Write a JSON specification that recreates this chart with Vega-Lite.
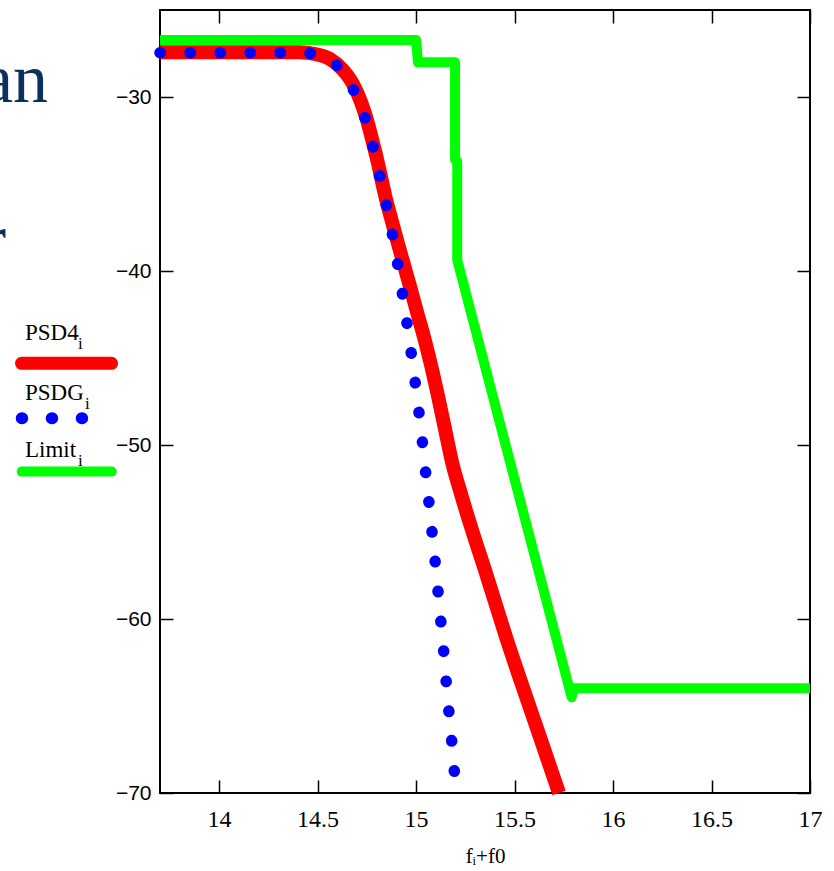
{
  "$schema": "https://vega.github.io/schema/vega-lite/v6.json",
  "width": 650,
  "height": 783,
  "autosize": {"type": "none"},
  "padding": {"left": 160, "top": 10, "right": 24, "bottom": 78},
  "background": "white",
  "config": {
    "view": {"stroke": "#000", "strokeWidth": 2},
    "axis": {"grid": false, "domain": false, "tickColor": "#000", "tickWidth": 1.5, "tickSize": -13, "labelColor": "#000", "labelFlush": false}
  },
  "datasets": {
    "psd4": [
      {"i": 0, "f": 13.7, "v": -27.43}, {"i": 1, "f": 14.4108, "v": -27.431}, {"i": 2, "f": 14.4869, "v": -27.529},
      {"i": 3, "f": 14.5631, "v": -27.816}, {"i": 4, "f": 14.6291, "v": -28.448}, {"i": 5, "f": 14.6799, "v": -29.253},
      {"i": 6, "f": 14.7205, "v": -30.287}, {"i": 7, "f": 14.7509, "v": -31.322}, {"i": 8, "f": 14.7763, "v": -32.414},
      {"i": 9, "f": 14.8017, "v": -33.563}, {"i": 10, "f": 14.822, "v": -34.598}, {"i": 11, "f": 14.8423, "v": -35.632},
      {"i": 12, "f": 14.8728, "v": -36.954}, {"i": 13, "f": 14.9032, "v": -38.218}, {"i": 14, "f": 14.9388, "v": -39.655},
      {"i": 15, "f": 14.9743, "v": -41.092}, {"i": 16, "f": 15.0048, "v": -42.356}, {"i": 17, "f": 15.0403, "v": -43.793},
      {"i": 18, "f": 15.0759, "v": -45.402}, {"i": 19, "f": 15.1114, "v": -47.184}, {"i": 20, "f": 15.1469, "v": -49.08},
      {"i": 21, "f": 15.1825, "v": -50.977}, {"i": 22, "f": 15.2282, "v": -52.816}, {"i": 23, "f": 15.284, "v": -54.885},
      {"i": 24, "f": 15.3449, "v": -57.011}, {"i": 25, "f": 15.4008, "v": -59.023}, {"i": 26, "f": 15.4566, "v": -61.034},
      {"i": 27, "f": 15.5175, "v": -63.103}, {"i": 28, "f": 15.5784, "v": -65.115}, {"i": 29, "f": 15.6394, "v": -67.126},
      {"i": 30, "f": 15.7257, "v": -70.0}
    ],
    "psdg": [
      {"i": 0, "f": 13.7, "v": -27.46}, {"i": 1, "f": 14.411, "v": -27.46}, {"i": 2, "f": 14.487, "v": -27.53},
      {"i": 3, "f": 14.563, "v": -27.82}, {"i": 4, "f": 14.633, "v": -28.7}, {"i": 5, "f": 14.715, "v": -30.4},
      {"i": 6, "f": 14.766, "v": -32.14}, {"i": 7, "f": 14.801, "v": -33.86}, {"i": 8, "f": 14.836, "v": -35.59},
      {"i": 9, "f": 14.869, "v": -37.26}, {"i": 10, "f": 14.898, "v": -39.02}, {"i": 11, "f": 14.923, "v": -40.76},
      {"i": 12, "f": 14.947, "v": -42.47}, {"i": 13, "f": 14.969, "v": -44.2}, {"i": 14, "f": 14.99, "v": -45.92},
      {"i": 15, "f": 15.01, "v": -47.7}, {"i": 16, "f": 15.028, "v": -49.39}, {"i": 17, "f": 15.044, "v": -51.11},
      {"i": 18, "f": 15.061, "v": -52.83}, {"i": 19, "f": 15.077, "v": -54.56}, {"i": 20, "f": 15.093, "v": -56.28},
      {"i": 21, "f": 15.108, "v": -58.0}, {"i": 22, "f": 15.122, "v": -59.71}, {"i": 23, "f": 15.137, "v": -61.44},
      {"i": 24, "f": 15.15, "v": -63.22}, {"i": 25, "f": 15.163, "v": -64.9}, {"i": 26, "f": 15.178, "v": -66.63},
      {"i": 27, "f": 15.191, "v": -68.35}, {"i": 28, "f": 15.205, "v": -70.0}
    ],
    "limit": [
      {"i": 0, "f": 13.7, "v": -26.72}, {"i": 1, "f": 15.0, "v": -26.72}, {"i": 2, "f": 15.01, "v": -28.0},
      {"i": 3, "f": 15.198, "v": -28.0}, {"i": 4, "f": 15.198, "v": -33.6}, {"i": 5, "f": 15.209, "v": -33.7},
      {"i": 6, "f": 15.209, "v": -39.37}, {"i": 7, "f": 15.79, "v": -64.5}, {"i": 8, "f": 15.8, "v": -63.98},
      {"i": 9, "f": 17.0, "v": -63.98}
    ],
    "legendLines": [
      {"s": "PSD4", "i": 0, "f": 12.997, "v": -45.305}, {"s": "PSD4", "i": 1, "f": 13.454, "v": -45.305},
      {"s": "PSDG", "i": 0, "f": 12.998, "v": -48.466}, {"s": "PSDG", "i": 1, "f": 13.305, "v": -48.466},
      {"s": "Limit", "i": 0, "f": 12.998, "v": -51.53}, {"s": "Limit", "i": 1, "f": 13.4548, "v": -51.53}
    ],
    "legendText": [
      {"t": "PSD4", "f": 13.0146, "v": -43.966},
      {"t": "PSDG", "f": 13.0146, "v": -47.414},
      {"t": "Limit", "f": 13.0146, "v": -50.69}
    ],
    "legendSub": [
      {"t": "i", "f": 13.2837, "v": -44.48},
      {"t": "i", "f": 13.3192, "v": -47.93},
      {"t": "i", "f": 13.2837, "v": -51.21}
    ],
    "slideText": [
      {"t": "an", "f": 13.1314, "v": -30.29},
      {"t": "r", "f": 12.918, "v": -39.48}
    ]
  },
  "resolve": {"axis": {"x": "independent", "y": "independent"}},
  "layer": [
    {
      "data": {"name": "psd4"},
      "mark": {"type": "line", "color": "#ff0000", "strokeWidth": 14, "strokeJoin": "round", "interpolate": "monotone"},
      "encoding": {
        "x": {"field": "f", "type": "quantitative", "scale": {"domain": [13.7, 17], "nice": false, "zero": false},
          "axis": {"orient": "bottom", "values": [14, 14.5, 15, 15.5, 16, 16.5, 17], "format": "~g", "labelFont": "Liberation Serif", "labelFontSize": 24, "labelPadding": 27,
            "title": "fᵢ+f0", "titleFont": "Liberation Serif", "titleFontSize": 21, "titleFontWeight": "normal", "titleColor": "#000", "titlePadding": 14}},
        "y": {"field": "v", "type": "quantitative", "scale": {"domain": [-70, -25], "nice": false, "zero": false},
          "axis": {"orient": "left", "values": [-70, -60, -50, -40, -30], "labelFont": "Liberation Sans", "labelFontSize": 21, "labelPadding": 22, "title": null}},
        "order": {"field": "i", "type": "quantitative"}
      }
    },
    {
      "data": {"name": "psdg"},
      "mark": {"type": "line", "color": "#0000ff", "strokeWidth": 11.5, "strokeCap": "round", "strokeDash": [0.5, 29.5], "interpolate": "monotone"},
      "encoding": {
        "x": {"field": "f", "type": "quantitative", "axis": {"orient": "top", "labels": false, "values": [14, 14.5, 15, 15.5, 16, 16.5, 17], "title": null}},
        "y": {"field": "v", "type": "quantitative", "axis": {"orient": "right", "labels": false, "values": [-70, -60, -50, -40, -30], "title": null}},
        "order": {"field": "i", "type": "quantitative"}
      }
    },
    {
      "data": {"name": "limit"},
      "mark": {"type": "line", "color": "#00ff00", "strokeWidth": 10, "strokeJoin": "round"},
      "encoding": {
        "x": {"field": "f", "type": "quantitative", "axis": null},
        "y": {"field": "v", "type": "quantitative", "axis": null},
        "order": {"field": "i", "type": "quantitative"}
      }
    },
    {
      "data": {"name": "legendLines"},
      "transform": [{"filter": "datum.s === 'PSD4'"}],
      "mark": {"type": "line", "color": "#ff0000", "strokeWidth": 13, "strokeCap": "round"},
      "encoding": {
        "x": {"field": "f", "type": "quantitative", "axis": null},
        "y": {"field": "v", "type": "quantitative", "axis": null},
        "order": {"field": "i", "type": "quantitative"}
      }
    },
    {
      "data": {"name": "legendLines"},
      "transform": [{"filter": "datum.s === 'PSDG'"}],
      "mark": {"type": "line", "color": "#0000ff", "strokeWidth": 12, "strokeCap": "round", "strokeDash": [0.5, 29.5]},
      "encoding": {
        "x": {"field": "f", "type": "quantitative", "axis": null},
        "y": {"field": "v", "type": "quantitative", "axis": null},
        "order": {"field": "i", "type": "quantitative"}
      }
    },
    {
      "data": {"name": "legendLines"},
      "transform": [{"filter": "datum.s === 'Limit'"}],
      "mark": {"type": "line", "color": "#00ff00", "strokeWidth": 10, "strokeCap": "round"},
      "encoding": {
        "x": {"field": "f", "type": "quantitative", "axis": null},
        "y": {"field": "v", "type": "quantitative", "axis": null},
        "order": {"field": "i", "type": "quantitative"}
      }
    },
    {
      "data": {"name": "legendText"},
      "mark": {"type": "text", "font": "Liberation Serif", "fontSize": 23, "color": "#000", "align": "left", "baseline": "alphabetic"},
      "encoding": {
        "x": {"field": "f", "type": "quantitative", "axis": null},
        "y": {"field": "v", "type": "quantitative", "axis": null},
        "text": {"field": "t"}
      }
    },
    {
      "data": {"name": "legendSub"},
      "mark": {"type": "text", "font": "Liberation Serif", "fontSize": 17, "color": "#000", "align": "left", "baseline": "alphabetic"},
      "encoding": {
        "x": {"field": "f", "type": "quantitative", "axis": null},
        "y": {"field": "v", "type": "quantitative", "axis": null},
        "text": {"field": "t"}
      }
    },
    {
      "data": {"name": "slideText"},
      "mark": {"type": "text", "font": "Liberation Serif", "fontSize": 70, "color": "#0d2f5e", "align": "right", "baseline": "alphabetic"},
      "encoding": {
        "x": {"field": "f", "type": "quantitative", "axis": null},
        "y": {"field": "v", "type": "quantitative", "axis": null},
        "text": {"field": "t"}
      }
    }
  ]
}
